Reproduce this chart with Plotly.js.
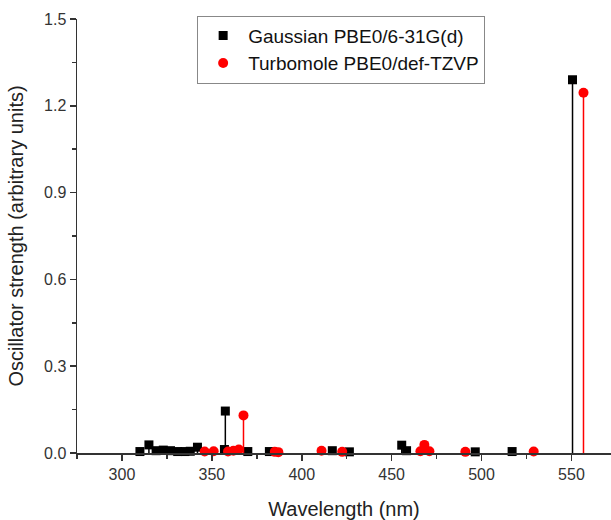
<!DOCTYPE html>
<html>
<head>
<meta charset="utf-8">
<script src="https://cdn.plot.ly/plotly-3.0.1.min.js"></script>
<style>html,body{margin:0;padding:0;background:#fff;}#chart{width:611px;height:520px;}</style>
</head>
<body>
<div id="chart"></div>
<script>
// Gaussian PBE0/6-31G(d)
var gaussWavelength = [310, 315, 319, 323, 327, 331, 335, 338, 342, 357, 357.5, 370, 382, 417, 426.5, 455.6, 458.3, 496.5, 517, 550.6];
var gaussStrength   = [0.005, 0.028, 0.008, 0.01, 0.008, 0.005, 0.005, 0.006, 0.02, 0.012, 0.145, 0.005, 0.005, 0.008, 0.004, 0.027, 0.008, 0.004, 0.005, 1.29];
// Turbomole PBE0/def-TZVP
var turboWavelength = [346, 351, 359, 362, 365, 367.6, 385, 387, 411, 422.5, 466, 468.2, 471, 491, 529, 556.7];
var turboStrength   = [0.005, 0.006, 0.005, 0.008, 0.012, 0.13, 0.004, 0.003, 0.008, 0.004, 0.006, 0.028, 0.006, 0.004, 0.005, 1.245];

var xTickVals = [300, 350, 400, 450, 500, 550];
var yTickVals = [0, 0.3, 0.6, 0.9, 1.2, 1.5];
var yTickText = ['0.0', '0.3', '0.6', '0.9', '1.2', '1.5'];

function zeros(a){ return a.map(function(){ return 0; }); }

var traces = [
  {
    x: gaussWavelength, y: gaussStrength, type: 'scatter', mode: 'markers',
    name: 'Gaussian PBE0/6-31G(d)',
    marker: {symbol: 'square', size: 9, color: '#000000'},
    error_y: {type: 'data', symmetric: false, array: zeros(gaussStrength), arrayminus: gaussStrength,
              color: '#000000', thickness: 1.5, width: 0},
    cliponaxis: false
  },
  {
    x: turboWavelength, y: turboStrength, type: 'scatter', mode: 'markers',
    name: 'Turbomole PBE0/def-TZVP',
    marker: {symbol: 'circle', size: 10, color: '#ff0000'},
    error_y: {type: 'data', symmetric: false, array: zeros(turboStrength), arrayminus: turboStrength,
              color: '#ff0000', thickness: 1.5, width: 0},
    cliponaxis: false
  }
];

var layout = {
  width: 611, height: 520,
  margin: {l: 77, r: 0, t: 19, b: 67},
  paper_bgcolor: '#ffffff', plot_bgcolor: '#ffffff',
  font: {family: 'Liberation Sans, Arial, sans-serif', size: 16, color: '#222'},
  showlegend: true,
  legend: {
    x: 0.225, y: 1.008, xanchor: 'left', yanchor: 'top',
    bordercolor: '#888', borderwidth: 1, bgcolor: '#ffffff',
    font: {size: 19, color: '#111'},
    itemwidth: 40, tracegroupgap: 0
  },
  xaxis: {
    range: [275, 572],
    tickvals: xTickVals,
    ticks: 'outside', ticklen: 6, tickwidth: 1.5, tickcolor: '#333',
    minor: {dtick: 25, tick0: 275, ticks: 'outside', ticklen: 4, tickwidth: 1.5, tickcolor: '#333'},
    showline: true, linecolor: '#333', linewidth: 1.5,
    showgrid: false, zeroline: false,
    tickfont: {size: 16, color: '#333'},
    title: {text: 'Wavelength (nm)', font: {size: 20, color: '#222'}, standoff: 20}
  },
  yaxis: {
    range: [0, 1.5],
    tickvals: yTickVals, ticktext: yTickText,
    ticks: 'outside', ticklen: 6, tickwidth: 1.5, tickcolor: '#333',
    minor: {dtick: 0.15, tick0: 0, ticks: 'outside', ticklen: 4, tickwidth: 1.5, tickcolor: '#333'},
    showline: true, linecolor: '#333', linewidth: 1.5,
    showgrid: false, zeroline: false,
    tickfont: {size: 16, color: '#333'},
    title: {text: 'Oscillator strength (arbitrary units)', font: {size: 20, color: '#222'}, standoff: 15}
  }
};

Plotly.newPlot('chart', traces, layout, {displayModeBar: false, staticPlot: true});
</script>
</body>
</html>
